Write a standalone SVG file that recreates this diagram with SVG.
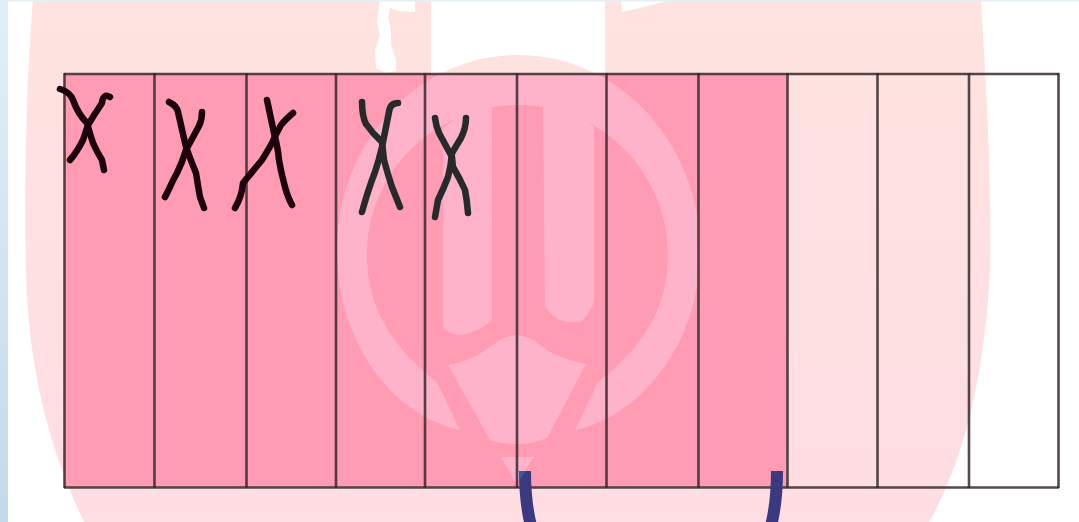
<svg xmlns="http://www.w3.org/2000/svg" width="1079" height="522" viewBox="0 0 1079 522">
<style>
.grid{fill:none;stroke:#352a2d;stroke-width:2.6;stroke-opacity:.85;filter:url(#soft)}
.xa{fill:none;stroke:#1f0508;stroke-width:6.5;stroke-linecap:round;stroke-linejoin:round;filter:url(#soft)}
.xb{fill:none;stroke:#262a2a;stroke-width:6.5;stroke-linecap:round;stroke-linejoin:round;filter:url(#soft)}
.br{fill:none;stroke:#3b3a80;stroke-width:12}
</style>
<defs>
<linearGradient id="side" x1="0" y1="0" x2="0" y2="1"><stop offset="0" stop-color="#e0f0f7"/><stop offset="1" stop-color="#c3daec"/></linearGradient>
<linearGradient id="pale" x1="0" y1="0" x2="0" y2="1"><stop offset="0" stop-color="#fee3df"/><stop offset="1" stop-color="#fedde3"/></linearGradient>
<filter id="soft" x="0" y="0" width="1079" height="522" filterUnits="userSpaceOnUse"><feGaussianBlur stdDeviation="0.6"/></filter>
<clipPath id="cells"><rect x="64" y="74" width="723" height="413"/></clipPath>
<path id="ring" d="M460 430 C400 418 337 350 337 250 C337 142 418 55 518 55 C618 55 700 142 700 250 C700 350 635 418 575 430 L598 382 C640 350 668 310 668 255 C668 172 601 105 518 105 C435 105 367 172 367 255 C367 310 395 350 437 382 Z"/>
</defs>
<rect width="1079" height="522" fill="#ffffff"/>
<g id="watermark">
<path fill="url(#pale)" d="M33 0 C27 70 24 170 26 270 C28 370 50 450 84 522 L929 522 C965 460 985 370 990 270 C992 170 985 70 981 0 Z"/>
<path fill="#ffffff" d="M431 0 H605 V80 H431 Z"/>
<path fill="#ffffff" d="M380 0 H415 V12 L399 11 L390 8 L388 18 L391 30 L391 45 L396 60 L396 71 L386 73 L376 68 L375 50 L380 35 L377 22 Z"/>
<path fill="#ffffff" d="M621 0 L622 12 L640 8 L671 0 Z"/>
<use href="#ring" fill="#fee2df"/>
</g>
<rect id="filled-cells" x="64" y="74" width="723" height="413" fill="#ff9bb3"/>
<g id="emblem" clip-path="url(#cells)" fill="#ffb3cb">
<use href="#ring"/>
<path d="M443 128 V328 Q452 335 460 335 Q476 334 492 320 V107 H470 Z"/>
<path d="M543 107 H570 L594 127 V300 Q592 313 580 322 H566 Q555 320 545 307 Z"/>
<path d="M517 335 Q530 336 543 347 Q552 356 586 364 L547 438 Q532 444 517 444 Q500 444 490 440 L448 365 Q470 362 490 347 Q505 335 517 335 Z"/>
<path d="M501 457 H534 L516 483 Z"/>
</g>
<rect id="left-strip" x="0" y="0" width="8" height="522" fill="url(#side)"/>
<rect id="top-strip" x="0" y="0" width="1079" height="1.5" fill="#e4eff5"/>
<g id="connectors">
<path class="grid" d="M64 74 H1059 M64 487.500 H1059"/>
<path class="grid" d="M64.500 73 V488 M154.500 73 V488 M246.500 73 V488 M336 73 V488 M425 73 V488 M517 73 V488 M606.500 73 V488 M698.500 73 V488 M787.500 73 V488 M877.500 73 V488 M969 73 V488 M1058.500 73 V488"/>
</g>
<g id="cross-1" class="xa"><path d="M60 89 Q70 92 73 100 Q78 114 87 123 Q90 134 93 143 Q97 152 102 160 L104 170"/><path d="M110 97 Q103 93 102 103 Q94 115 88 125 Q85 134 83 140 Q77 152 70 160"/></g>
<g id="cross-2" class="xa"><path d="M169 102 Q177 106 178 112 L186 147 Q191 161 196 173 Q198 186 200 197 L204 208"/><path d="M202 112 Q202 120 199 126 L186 150 Q182 163 177 173 Q172 182 170 187 L165 197"/></g>
<g id="cross-3" class="xa"><path d="M267 100 L274 133 Q278 148 279 160 Q281 172 284 183 Q287 196 292 205"/><path d="M293 113 Q285 120 281 125 Q276 134 272 143 Q267 152 262 160 Q252 172 243 183 Q242 196 235 208"/></g>
<g id="cross-4" class="xb"><path d="M362 102 Q362 116 366 124 Q373 134 382 142 L384 160 Q388 175 392 187 Q396 197 400 207"/><path d="M398 103 Q390 103 389 112 L382 147 Q379 160 375 172 Q368 190 362 212"/></g>
<g id="cross-5" class="xb"><path d="M435 118 Q436 126 439 133 L452 157 L453 167 Q460 179 465 190 Q467 200 468 213"/><path d="M466 118 Q466 128 461 138 L452 153 Q451 166 448 177 Q443 190 438 200 L435 217"/></g>
<g id="bracket">
<path class="br" d="M525 471 C525 490 527 510 531 526"/>
<path class="br" d="M777 471 C777 490 775 510 771 526"/>
<path fill="#2f5e9e" d="M519 471 H526 L519 481 Z"/>
</g>
</svg>
